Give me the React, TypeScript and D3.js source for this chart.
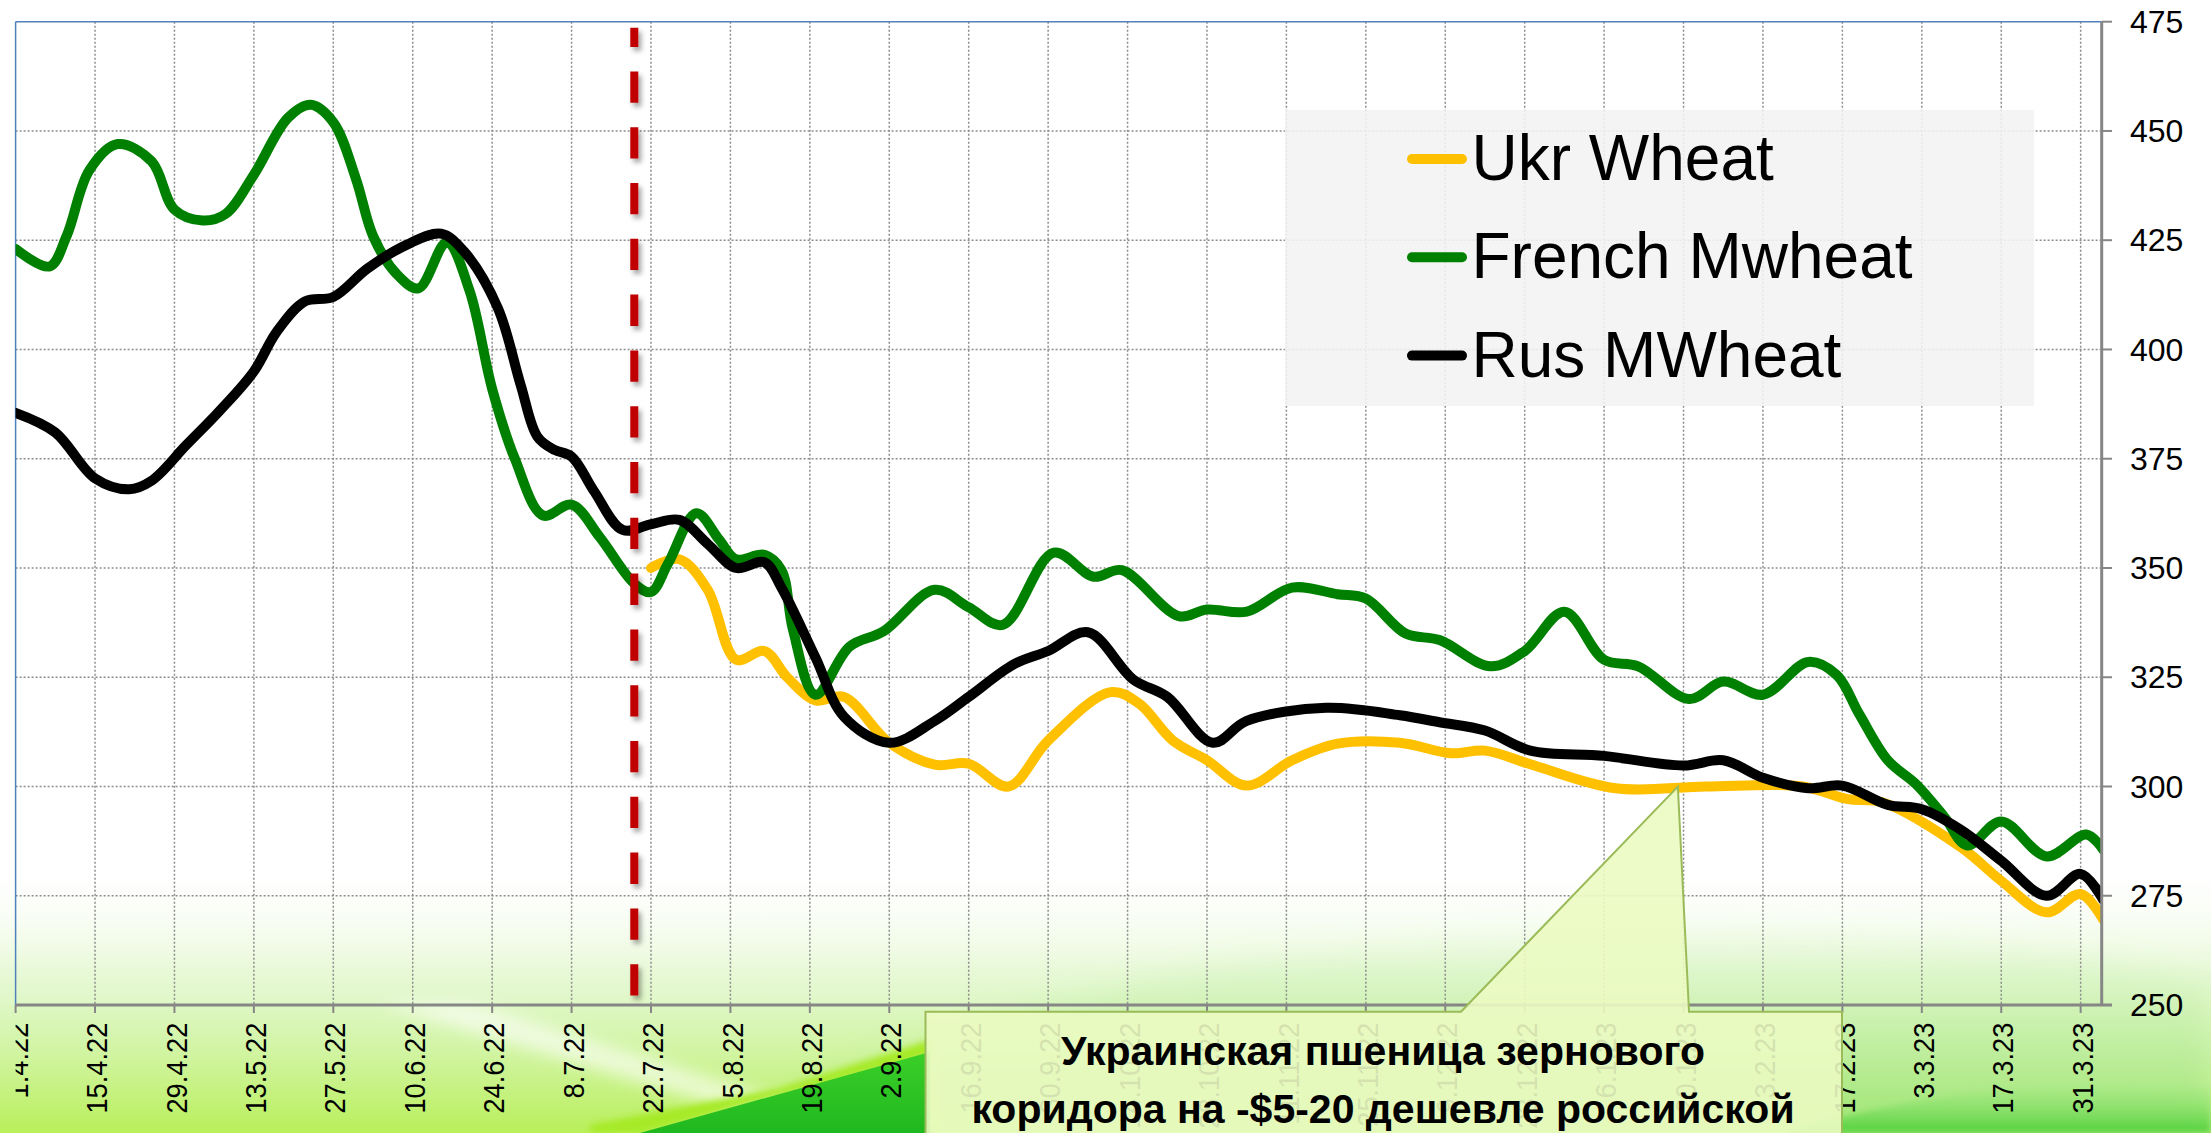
import React from "react";
import * as d3 from "d3";

// ---------- data ----------
const ukrDates = ["2022-07-22","2022-07-27","2022-08-01","2022-08-06","2022-08-11","2022-08-15","2022-08-20","2022-08-25","2022-09-02","2022-09-10","2022-09-16","2022-09-23","2022-09-30","2022-10-11","2022-10-16","2022-10-22","2022-10-28","2022-11-04","2022-11-12","2022-11-20","2022-12-01","2022-12-10","2022-12-16","2022-12-24","2023-01-08","2023-01-24","2023-02-10","2023-02-18","2023-02-24","2023-03-10","2023-03-17","2023-03-25","2023-03-31","2023-04-04"];
const ukrValues = [350,352,345,329,331,325,319.7,320.5,310,305,305.2,300,310.5,321.6,319,310.5,306,300.2,306,309.8,310,307.6,308.2,305.1,299.6,300,300,297.1,296.4,286,278.4,271.2,275.4,269.5];

const frenchDates = ["2022-04-01","2022-04-07","2022-04-10","2022-04-14","2022-04-19","2022-04-25","2022-04-29","2022-05-04","2022-05-08","2022-05-13","2022-05-19","2022-05-23","2022-05-27","2022-05-31","2022-06-03","2022-06-07","2022-06-11","2022-06-16","2022-06-20","2022-06-24","2022-06-28","2022-07-03","2022-07-08","2022-07-13","2022-07-19","2022-07-22","2022-07-25","2022-07-30","2022-08-03","2022-08-06","2022-08-11","2022-08-14","2022-08-16","2022-08-20","2022-08-26","2022-09-01","2022-09-10","2022-09-16","2022-09-22","2022-10-01","2022-10-08","2022-10-13","2022-10-23","2022-10-28","2022-11-04","2022-11-12","2022-11-20","2022-11-25","2022-12-02","2022-12-08","2022-12-17","2022-12-23","2022-12-30","2023-01-06","2023-01-12","2023-01-21","2023-01-27","2023-02-03","2023-02-11","2023-02-16","2023-02-20","2023-02-25","2023-03-02","2023-03-07","2023-03-11","2023-03-17","2023-03-25","2023-04-01","2023-04-04"];
const frenchValues = [423,419,426,441,447,443,432,429.5,431,440,453,456,452,439,426,417.5,414,424.5,413.5,391,375,362,364.5,357,346.5,344.5,351,362.5,356.5,352,353,349.5,336,321,332,335.5,345,341,337,353.5,348,349.5,339,340.5,340,345.5,344,343,335,333.5,327.5,331,340,329,327.5,320,324,321,328.5,325.5,316.5,306,300.5,293,286.5,292,284,289,285.5];

const rusDates = ["2022-04-01","2022-04-08","2022-04-15","2022-04-21","2022-04-25","2022-05-01","2022-05-07","2022-05-13","2022-05-17","2022-05-22","2022-05-27","2022-06-02","2022-06-09","2022-06-15","2022-06-19","2022-06-25","2022-06-29","2022-07-02","2022-07-05","2022-07-08","2022-07-12","2022-07-17","2022-07-22","2022-07-27","2022-08-01","2022-08-06","2022-08-11","2022-08-14","2022-08-20","2022-08-25","2022-09-02","2022-09-10","2022-09-16","2022-09-24","2022-09-30","2022-10-07","2022-10-15","2022-10-21","2022-10-29","2022-11-04","2022-11-18","2022-12-01","2022-12-08","2022-12-16","2022-12-24","2023-01-06","2023-01-20","2023-01-27","2023-02-03","2023-02-11","2023-02-17","2023-02-25","2023-03-03","2023-03-10","2023-03-17","2023-03-25","2023-03-31","2023-04-04"];
const rusValues = [385.5,381,370.5,368,370,378,386,395,404,411,412,418.5,424,426.5,422.5,409.5,392,380,377,375.5,367.5,358.7,360,361,355.5,350,351.3,345.5,329.5,316,310,315,320.5,328,331,335.3,324.5,320.5,310,315,318,316.3,314.7,312.8,308.2,307,304.8,306,302,299.6,300.2,295.8,294.8,290,283,275,280,274];

const seriesNames = ["Ukr Wheat", "French Mwheat", "Rus MWheat"];
const seriesColors = ["#ffc000", "#008000", "#000000"];
const yTicks = [250, 275, 300, 325, 350, 375, 400, 425, 450, 475];
const axisStart = "2022-04-01";
const axisEnd = "2023-04-03T17:00";
const tickStepDays = 14;
const tickCount = 27;
const corridorDate = "2022-07-19";
const calloutLines = ["Украинская пшеница зернового", "коридора на -$5-20 дешевле российской"];
const calloutPointDate = "2023-01-19";
const calloutPointValue = 300;

const FONT = '"Liberation Sans", Arial, Helvetica, sans-serif';

export default function App() {
  const W = 2211, H = 1133;
  const left = 15.6, right = 2101.7, top = 21.7, bottom = 1005;
  const parse = (s: string) => new Date(s.length > 10 ? s : s + "T00:00");

  const x = d3.scaleTime().domain([parse(axisStart), parse(axisEnd)]).range([left, right]);
  const y = d3.scaleLinear().domain([250, 475]).range([bottom, top]);

  const series = [
    ukrDates.map((d, i) => [parse(d), ukrValues[i]] as [Date, number]),
    frenchDates.map((d, i) => [parse(d), frenchValues[i]] as [Date, number]),
    rusDates.map((d, i) => [parse(d), rusValues[i]] as [Date, number]),
  ];
  const line = d3.line<[Date, number]>()
    .x(d => x(d[0]))
    .y(d => y(d[1]))
    .curve(d3.curveCatmullRom.alpha(0.5));

  const xTicks = d3.range(tickCount).map(i => d3.timeDay.offset(parse(axisStart), i * tickStepDays));
  const fmt = d3.timeFormat("%-d.%-m.%y");
  const redX = x(parse(corridorDate)) + 0.3;

  // callout geometry
  const cL = 925.5, cR = 1842, cT = 1011.7, cB = 1140;
  const tipX = x(parse(calloutPointDate)), tipY = y(calloutPointValue);
  const calloutPath = `M${cL},${cT} L1461,${cT} L${tipX},${tipY} L1689,${cT} L${cR},${cT} L${cR},${cB} L${cL},${cB} Z`;

  // legend geometry
  const lgX = 1285, lgY = 110, lgW = 749, lgH = 296;

  return (
    <svg width={W} height={H} viewBox={`0 0 ${W} ${H}`}
      style={{ position: "fixed", left: 0, top: 0, display: "block", background: "#ffffff" }}>
      <defs>
        <linearGradient id="bgGrad" x1="0" y1="0" x2="0" y2="1">
          <stop offset="0" stopColor="#ffffff" stopOpacity="0" />
          <stop offset="0.4" stopColor="#e8f9d8" stopOpacity="1" />
          <stop offset="0.7" stopColor="#d3f4ae" />
          <stop offset="1" stopColor="#bff07a" />
        </linearGradient>
        <linearGradient id="limeGrad" x1="0" y1="0" x2="0" y2="1">
          <stop offset="0" stopColor="#dcf8bc" stopOpacity="0.3" />
          <stop offset="1" stopColor="#b9ef5a" stopOpacity="1" />
        </linearGradient>
        <linearGradient id="swoosh" x1="0" y1="0" x2="0" y2="1">
          <stop offset="0" stopColor="#c8f0b0" stopOpacity="0.1" />
          <stop offset="1" stopColor="#8fe070" stopOpacity="0.7" />
        </linearGradient>
        <linearGradient id="wedge" x1="0" y1="0" x2="0" y2="1">
          <stop offset="0" stopColor="#3ccf28" />
          <stop offset="1" stopColor="#1fb81f" />
        </linearGradient>
        <linearGradient id="rightGreen" x1="0" y1="0" x2="0" y2="1">
          <stop offset="0" stopColor="#a9eb88" stopOpacity="0.3" />
          <stop offset="1" stopColor="#4fd03a" />
        </linearGradient>
        <filter id="blur8" x="-20%" y="-20%" width="140%" height="140%"><feGaussianBlur stdDeviation="8" /></filter>
        <filter id="blur3" x="-20%" y="-20%" width="140%" height="140%"><feGaussianBlur stdDeviation="3" /></filter>
        <filter id="blur14" x="-20%" y="-50%" width="140%" height="200%"><feGaussianBlur stdDeviation="14" /></filter>
        <filter id="dashShadow" filterUnits="userSpaceOnUse" x="600" y="0" width="80" height="1040">
          <feDropShadow dx="3" dy="4" stdDeviation="2.5" floodColor="#000" floodOpacity="0.35" />
        </filter>
        <clipPath id="plotClip">
          <rect x={left} y={0} width={right - left} height={bottom + 10} />
        </clipPath>
        <clipPath id="labelClip">
          <rect x={left} y={bottom} width={W - left} height={H - bottom} />
        </clipPath>
      </defs>

      {/* background */}
      <rect x={0} y={0} width={W} height={H} fill="#ffffff" />
      <rect x={0} y={860} width={W} height={H - 860} fill="url(#bgGrad)" />
      <path d="M700,1133 C900,1030 1200,945 1600,932 C1900,925 2100,955 2211,985 L2211,1133 Z" fill="url(#swoosh)" filter="url(#blur14)" />
      <rect x={0} y={1005} width={940} height={128} fill="url(#limeGrad)" />
      <path d="M380,1003 L470,1003 L810,1108 L770,1122 Z" fill="#ffffff" opacity="0.6" filter="url(#blur8)" />
      <path d="M590,1125 L780,1088 L930,1040 L930,1056 L640,1133 L590,1133 Z" fill="#a6ea25" filter="url(#blur3)" />
      <path d="M640,1133 L930,1052 L930,1133 Z" fill="url(#wedge)" />
      <path d="M1780,1133 C1950,1085 2080,1078 2211,1088 L2211,1133 Z" fill="url(#rightGreen)" filter="url(#blur3)" />

      {/* gridlines */}
      <g stroke="#8c8c8c" strokeWidth={1.5} strokeDasharray="2 2">
        {yTicks.filter(t => t > 250 && t < 475).map(t => (
          <line key={"gy" + t} x1={left} x2={right} y1={y(t)} y2={y(t)} />
        ))}
        {xTicks.slice(1).map((t, i) => (
          <line key={"gx" + i} x1={x(t)} x2={x(t)} y1={top} y2={bottom} />
        ))}
      </g>

      {/* plot borders */}
      <line x1={left} x2={right} y1={top} y2={top} stroke="#4f81bd" strokeWidth={1.5} />
      <line x1={left} x2={left} y1={top} y2={bottom} stroke="#4f81bd" strokeWidth={1.5} />

      {/* legend box */}
      <rect x={lgX} y={lgY} width={lgW} height={lgH} fill="#f2f2f2" opacity={0.88} />

      {/* series lines */}
      <g clipPath="url(#plotClip)" fill="none" strokeLinejoin="round" strokeLinecap="round">
        {series.map((s, i) => (
          <path key={seriesNames[i]} d={line(s) || ""} stroke={seriesColors[i]} strokeWidth={10} />
        ))}
      </g>

      {/* axes */}
      <line x1={left} x2={2112} y1={bottom} y2={bottom} stroke="#868686" strokeWidth={3} />
      <line x1={right} x2={right} y1={top} y2={bottom} stroke="#868686" strokeWidth={3} />
      <g stroke="#868686" strokeWidth={2}>
        {yTicks.map(t => (
          <line key={"ty" + t} x1={right} x2={2112} y1={y(t)} y2={y(t)} />
        ))}
        {xTicks.map((t, i) => (
          <line key={"tx" + i} x1={x(t)} x2={x(t)} y1={bottom} y2={bottom + 8} />
        ))}
      </g>
      <g fontFamily={FONT} fontSize={32} fill="#000">
        {yTicks.map(t => (
          <text key={"ly" + t} x={2130} y={y(t)} dy="0.35em">{t}</text>
        ))}
      </g>
      <g fontFamily={FONT} fontSize={29} fill="#000" clipPath="url(#labelClip)">
        {xTicks.map((t, i) => (
          <text key={"lx" + i} textAnchor="end" dy="0.35em"
            transform={`translate(${x(t) + 2},${1022.7}) rotate(-90) scale(0.94,1)`}>{fmt(t)}</text>
        ))}
      </g>

      {/* corridor marker */}
      <line x1={redX} x2={redX} y1={27.7} y2={1000} stroke="#c00000" strokeWidth={8}
        strokeDasharray="31.3 24.5" strokeDashoffset={12.1} filter="url(#dashShadow)" />

      {/* legend entries */}
      <g fontFamily={FONT} fontSize={64} fill="#000">
        {seriesNames.map((n, i) => (
          <g key={"lg" + n} transform={`translate(0,${180 + i * 98.3})`}>
            <line x1={1412} x2={1462} y1={-21} y2={-21} stroke={seriesColors[i]} strokeWidth={10} strokeLinecap="round" />
            <text x={1471.5} y={0}>{n}</text>
          </g>
        ))}
      </g>

      {/* callout */}
      <path d={calloutPath} fill="#ebfbc2" fillOpacity={0.9} stroke="#9bbb59" strokeWidth={2} />
      <g fontFamily={FONT} fontSize={41} fontWeight="bold" fill="#000" textAnchor="middle">
        {calloutLines.map((t, i) => (
          <text key={"co" + i} x={1383} y={1065 + i * 58}>{t}</text>
        ))}
      </g>
    </svg>
  );
}
